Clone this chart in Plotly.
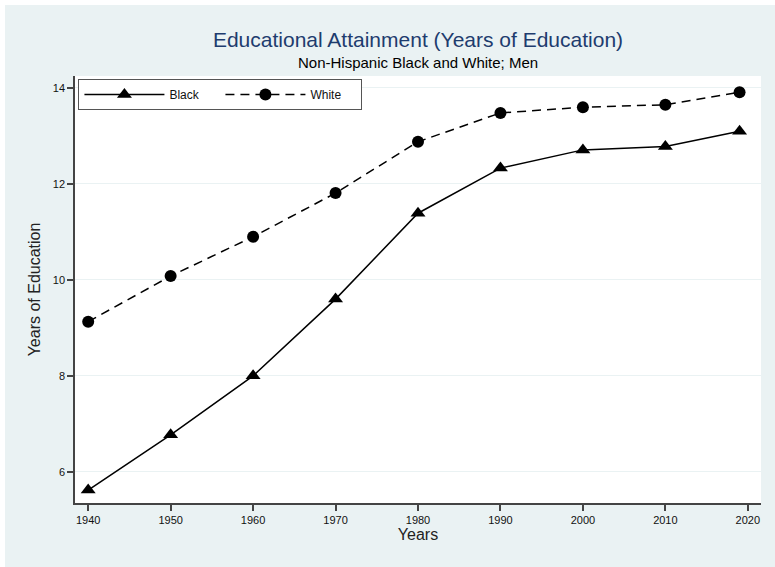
import plotly.graph_objects as go

years = [1940, 1950, 1960, 1970, 1980, 1990, 2000, 2010, 2019]
black = [5.62, 6.77, 8.0, 9.6, 11.39, 12.33, 12.71, 12.78, 13.1]
white = [9.13, 10.08, 10.9, 11.81, 12.88, 13.48, 13.6, 13.65, 13.91]
x_ticks = [1940, 1950, 1960, 1970, 1980, 1990, 2000, 2010, 2020]
y_ticks = [6, 8, 10, 12, 14]

BG = "#EAF2F3"
FONT = "Liberation Sans, Arial, sans-serif"
PLOT_H = 567 - 76 - 64
PLOT_W = 775 - 75 - 14

fig = go.Figure()
fig.add_trace(go.Scatter(
    x=years, y=black, name="Black", mode="lines+markers",
    line=dict(color="black", width=1.5),
    marker=dict(symbol="triangle-up", size=13, color="black"),
))
fig.add_trace(go.Scatter(
    x=years, y=white, name="White", mode="lines+markers",
    line=dict(color="black", width=1.5, dash="9px,6px"),
    marker=dict(symbol="circle", size=12, color="black"),
))

fig.update_layout(
    width=775, height=567,
    paper_bgcolor=BG, plot_bgcolor="white",
    margin=dict(l=75, r=14, t=76, b=64),
    font=dict(family=FONT, color="#222"),
    title=dict(text="Educational Attainment (Years of Education)",
               x=0.5, xref="paper", xanchor="center",
               y=1 - 40 / 567, yref="container", yanchor="middle",
               font=dict(size=21, color="#1E3C6E", family=FONT)),
    showlegend=True,
    legend=dict(orientation="h", x=0.005, y=0.993, xanchor="left", yanchor="top",
                bgcolor="white", bordercolor="#555", borderwidth=1,
                font=dict(size=12, color="#111"), itemwidth=80,
                entrywidth=46, tracegroupgap=0),
    annotations=[dict(text="Non-Hispanic Black and White; Men", x=0.5, xref="paper",
                      y=(503 - 63) / PLOT_H, yref="paper",
                      yanchor="middle", showarrow=False,
                      font=dict(size=15, color="black", family=FONT))],
    shapes=[
        dict(type="rect", xref="paper", yref="paper", x0=-0.3, x1=(5 - 75) / PLOT_W,
             y0=-0.5, y1=1.5, fillcolor="white", line=dict(width=0), layer="below"),
        dict(type="rect", xref="paper", yref="paper", x0=-0.3, x1=1.3,
             y0=(503 - 5) / PLOT_H, y1=1.5, fillcolor="white", line=dict(width=0), layer="below"),
    ],
)

fig.update_xaxes(
    range=[1938.4, 2021.6], tickvals=x_ticks, ticks="outside", ticklen=6,
    tickcolor="#444", tickwidth=1.5, showline=True, linecolor="#444", linewidth=1.5,
    showgrid=False, zeroline=False, tickfont=dict(size=11, color="#111"),
    title=dict(text="Years", font=dict(size=16, color="#222"), standoff=2),
)
fig.update_yaxes(
    range=[5.35, 14.25], tickvals=y_ticks, ticks="outside", ticklen=6,
    tickcolor="#444", tickwidth=1.5, showline=True, linecolor="#444", linewidth=1.5,
    showgrid=True, gridcolor=BG, gridwidth=1, zeroline=False,
    tickfont=dict(size=11, color="#111"),
    title=dict(text="Years of Education", font=dict(size=16, color="#222"), standoff=8),
)

fig.write_html(
    "out.html",
    config={"displayModeBar": False},
    post_script=("document.body.style.margin='0';"
                 "document.body.style.overflow='hidden';"
                 "document.body.style.background='" + BG + "';"),
)
